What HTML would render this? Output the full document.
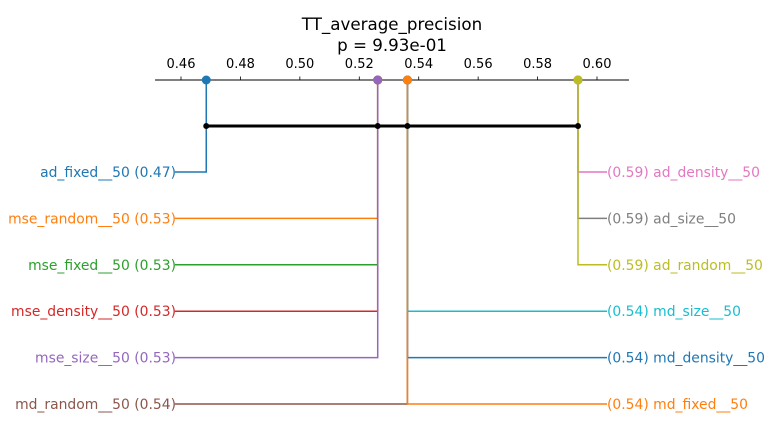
<!DOCTYPE html>
<html><head><meta charset="utf-8"><style>
html,body{margin:0;padding:0;background:#fff;}
svg{display:block;font-family:"DejaVu Sans","Liberation Sans",sans-serif;}
</style></head><body>
<svg id="chart" width="774" height="436" viewBox="0 0 774 436" xmlns="http://www.w3.org/2000/svg">
<text x="392" y="30" font-size="16.7" text-anchor="middle">TT_average_precision</text>
<text x="392" y="51" font-size="16.7" text-anchor="middle">p = 9.93e-01</text>
<g id="axis"></g>
<g id="marks"></g>
</svg>
<script>
const tickValues = [0.46, 0.48, 0.50, 0.52, 0.54, 0.56, 0.58, 0.60];
const tickLabels = ["0.46", "0.48", "0.50", "0.52", "0.54", "0.56", "0.58", "0.60"];
const leftMethods = ["ad_fixed__50", "mse_random__50", "mse_fixed__50", "mse_density__50", "mse_size__50", "md_random__50"];
const leftValues = [0.4685, 0.5262, 0.5262, 0.5262, 0.5262, 0.5362];
const leftColors = ["#1f77b4", "#ff7f0e", "#2ca02c", "#d62728", "#9467bd", "#8c564b"];
const rightMethods = ["ad_density__50", "ad_size__50", "ad_random__50", "md_size__50", "md_density__50", "md_fixed__50"];
const rightValues = [0.5936, 0.5936, 0.5936, 0.5362, 0.5362, 0.5362];
const rightColors = ["#e377c2", "#7f7f7f", "#bcbd22", "#17becf", "#1f77b4", "#ff7f0e"];
const cliqueValues = [0.4685, 0.5262, 0.5362, 0.5936];

const NS = "http://www.w3.org/2000/svg";
const x = v => 181 + (v - 0.46) * (597 - 181) / 0.14;
const rowY = i => 172 + i * 46.4;
const AXY = 80;
function mk(tag, attrs, parent){const e=document.createElementNS(NS,tag);for(const k in attrs)e.setAttribute(k,attrs[k]);parent.appendChild(e);return e;}
const axis = document.getElementById('axis');
const marks = document.getElementById('marks');
const al = mk('line',{x1:155,x2:629,y1:AXY,y2:AXY,stroke:'#000','stroke-width':1},axis);


tickValues.forEach((v,i)=>{
  const t = mk('line',{x1:x(v),x2:x(v),y1:AXY-3.5,y2:AXY,stroke:'#000','stroke-width':0.8},axis);
  
  
  const l = mk('text',{x:x(v),y:68,'font-size':13,'text-anchor':'middle'},axis);
  l.textContent = tickLabels[i];
  
  
});
function drawSide(names, vals, cols, left){
  names.forEach((n,i)=>{
    const xv = x(vals[i]), y = rowY(i);
    const xe = left ? 175 : 607;
    const p = mk('polyline',{points:`${xv},${AXY} ${xv},${y} ${xe},${y}`,fill:'none',stroke:cols[i],'stroke-width':1.5},marks);
    
    
    const c = mk('circle',{cx:xv,cy:AXY,r:4.5,fill:cols[i]},marks);
    
    
    const t = mk('text',{x:left?176:607,y:y+5,'font-size':13.9,fill:cols[i],'text-anchor':left?'end':'start'},marks);
    t.textContent = left ? `${n} (${vals[i].toFixed(2)})` : `(${vals[i].toFixed(2)}) ${n}`;
    
    
  });
}
drawSide(leftMethods,leftValues,leftColors,true);
drawSide(rightMethods,rightValues,rightColors,false);
const cb = mk('line',{x1:x(Math.min(...cliqueValues)),x2:x(Math.max(...cliqueValues)),y1:126,y2:126,stroke:'#000','stroke-width':3},marks);


cliqueValues.forEach(v=>{
  const d = mk('circle',{cx:x(v),cy:126,r:3,fill:'#000'},marks);
  
  
});
</script>
</body></html>
